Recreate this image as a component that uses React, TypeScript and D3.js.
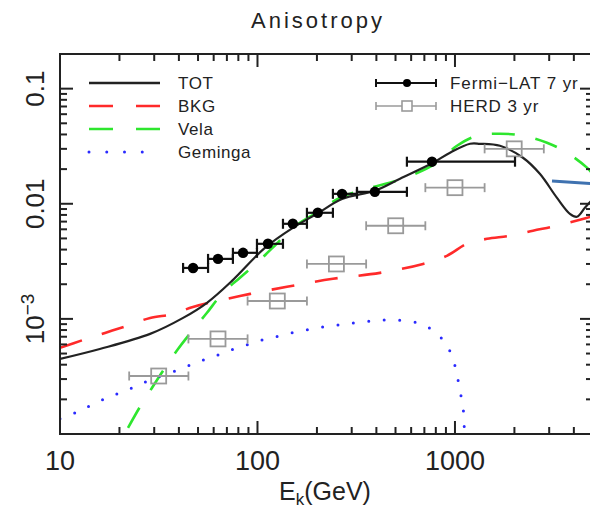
import React, { useEffect, useRef } from "react"
import * as d3 from "d3"

// curves (E in GeV, anisotropy)
const totE = [10, 15.9, 28.6, 42, 55.5, 74.3, 109, 151, 200, 268, 394, 527, 774, 944, 1192, 1339, 1690, 2210, 2690, 3280, 3820, 4150, 4550, 5000]
const totA = [4.49e-4, 5.48e-4, 7.41e-4, 1.02e-3, 1.38e-3, 2.14e-3, 4.14e-3, 6.18e-3, 8.18e-3, 0.011, 0.013, 0.0165, 0.0227, 0.0278, 0.0332, 0.0332, 0.0319, 0.0251, 0.0182, 0.0113, 8.18e-3, 7.71e-3, 9.23e-3, 0.011]

const bkgE = [10, 13.1, 16.9, 21.8, 28.6, 37.4, 47.1, 81.5, 141, 241, 417, 689, 910, 1150, 1452, 1898, 2483, 3283, 4295, 5000]
const bkgA = [5.6e-4, 6.56e-4, 7.55e-4, 8.69e-4, 1.02e-3, 1.1e-3, 1.27e-3, 1.58e-3, 1.9e-3, 2.23e-3, 2.51e-3, 3.0e-3, 3.53e-3, 4.49e-3, 4.96e-3, 5.27e-3, 5.83e-3, 6.44e-3, 7.26e-3, 7.8e-3]

const velaE = [22.1, 25.4, 29.2, 34, 39.6, 47.1, 55.5, 66.1, 81.5, 99.4, 125, 151, 207, 262, 358, 545, 811, 1024, 1292, 1690, 2210, 2924, 3690, 4660, 5000]
const velaA = [1.13e-4, 1.72e-4, 2.51e-4, 3.75e-4, 5.48e-4, 8.02e-4, 1.13e-3, 1.65e-3, 2.28e-3, 3.07e-3, 4.49e-3, 6.18e-3, 8.69e-3, 0.0113, 0.0135, 0.0165, 0.0227, 0.0319, 0.039, 0.0406, 0.039, 0.0339, 0.0278, 0.0206, 0.018]

const gemE = [10, 12.2, 14.5, 17.3, 20.6, 24.5, 29.2, 34.8, 42, 50, 59.6, 71, 85.5, 102, 123, 148, 178, 215, 259, 312, 380, 458, 558, 673, 792, 900, 977, 1024, 1060, 1099, 1111, 1125]
const gemA = [1.36e-4, 1.55e-4, 1.79e-4, 2.06e-4, 2.32e-4, 2.61e-4, 3.01e-4, 3.32e-4, 3.75e-4, 4.23e-4, 4.67e-4, 5.27e-4, 5.83e-4, 6.44e-4, 6.97e-4, 7.55e-4, 8.02e-4, 8.51e-4, 8.87e-4, 9.23e-4, 9.61e-4, 9.8e-4, 9.61e-4, 9.06e-4, 7.7e-4, 6.07e-4, 4.49e-4, 3.26e-4, 2.37e-4, 1.72e-4, 1.22e-4, 1.0e-4]

const extraE = [3100, 5000]
const extraA = [0.0158, 0.0149]

// data points
const fermiE = [47.2, 63.1, 84.5, 113, 151, 202, 268, 393, 765]
const fermiLo = [42, 56.2, 75.1, 99.4, 134.6, 178, 241, 319, 571]
const fermiHi = [56.2, 75.1, 99.4, 134.6, 178, 241, 319, 571, 2014]
const fermiA = [2.77e-3, 3.32e-3, 3.75e-3, 4.49e-3, 6.7e-3, 8.35e-3, 0.0122, 0.0127, 0.0232]

const herdE = [31.6, 63.1, 126, 251, 501, 1000, 1995]
const herdLo = [22.4, 44.7, 89.1, 178, 355, 708, 1413]
const herdHi = [44.7, 89.1, 178, 355, 708, 1413, 2818]
const herdA = [3.19e-4, 6.7e-4, 1.43e-3, 3.0e-3, 6.44e-3, 0.0138, 0.03]

const xMajor = [10, 100, 1000]
const xLabels = ["10", "100", "1000"]
const xMinor = [20, 30, 40, 50, 60, 70, 80, 90, 200, 300, 400, 500, 600, 700, 800, 900, 2000, 3000, 4000]
const yMajor = [1e-3, 1e-2, 0.1]
const yMinor = [2e-4, 3e-4, 4e-4, 5e-4, 6e-4, 7e-4, 8e-4, 9e-4, 2e-3, 3e-3, 4e-3, 5e-3, 6e-3, 7e-3, 8e-3, 9e-3, 0.02, 0.03, 0.04, 0.05, 0.06, 0.07, 0.08, 0.09]

const lineNames = ["TOT", "BKG", "Vela", "Geminga"]
const pointNames = ["Fermi\u2212LAT 7 yr", "HERD 3 yr"]

const FONT = "'Liberation Sans', Arial, sans-serif"

export default function App() {
    const ref = useRef<SVGSVGElement>(null)

    useEffect(() => {
        const svg = d3.select(ref.current)
        svg.selectAll("*").remove()
        const left = 60, right = 593, top = 54, bottom = 434
        const x = d3.scaleLog().domain([10, 5000]).range([left, right])
        const y = d3.scaleLog().domain([1e-4, 0.2]).range([bottom, top])

        svg.append("defs").append("clipPath").attr("id", "plotclip")
            .append("rect").attr("x", left).attr("y", top)
            .attr("width", right - left).attr("height", bottom - top)

        const line = d3.line<[number, number]>()
            .x(d => x(d[0])).y(d => y(d[1]))
            .curve(d3.curveCatmullRom.alpha(0.5))
        const zip = (a: number[], b: number[]) => a.map((v, i) => [v, b[i]] as [number, number])

        const g = svg.append("g").attr("clip-path", "url(#plotclip)")
        const curves = [
            { data: zip(bkgE, bkgA), color: "#ff2a2a", dash: "23 21", w: 2.6 },
            { data: zip(velaE, velaA), color: "#2ee62e", dash: "23 21", w: 2.6 },
            { data: zip(gemE, gemA), color: "#2a2aff", dash: "0 15.5", w: 3 },
            { data: zip(totE, totA), color: "#222", dash: null, w: 2.2 },
            { data: zip(extraE, extraA), color: "#3f72b0", dash: null, w: 3 },
        ]
        curves.forEach(c => {
            g.append("path").attr("d", line(c.data))
                .attr("fill", "none").attr("stroke", c.color)
                .attr("stroke-width", c.w)
                .attr("stroke-linecap", c.dash && c.dash.startsWith("0") ? "round" : "butt")
                .attr("stroke-dasharray", c.dash)
        })

        // HERD
        const herd = g.append("g").attr("stroke", "#9a9a9a").attr("stroke-width", 1.8).attr("fill", "none")
        herdE.forEach((e, i) => {
            const cy = y(herdA[i])
            herd.append("line").attr("x1", x(herdLo[i])).attr("x2", x(herdHi[i])).attr("y1", cy).attr("y2", cy)
            herd.append("line").attr("x1", x(herdLo[i])).attr("x2", x(herdLo[i])).attr("y1", cy - 4.5).attr("y2", cy + 4.5)
            herd.append("line").attr("x1", x(herdHi[i])).attr("x2", x(herdHi[i])).attr("y1", cy - 4.5).attr("y2", cy + 4.5)
            herd.append("rect").attr("x", x(e) - 7.5).attr("y", cy - 7.5).attr("width", 15).attr("height", 15)
        })

        // Fermi
        const fermi = g.append("g").attr("stroke", "#111").attr("stroke-width", 2.2)
        fermiE.forEach((e, i) => {
            const cy = y(fermiA[i])
            fermi.append("line").attr("x1", x(fermiLo[i])).attr("x2", x(fermiHi[i])).attr("y1", cy).attr("y2", cy)
            fermi.append("line").attr("x1", x(fermiLo[i])).attr("x2", x(fermiLo[i])).attr("y1", cy - 5).attr("y2", cy + 5)
            fermi.append("line").attr("x1", x(fermiHi[i])).attr("x2", x(fermiHi[i])).attr("y1", cy - 5).attr("y2", cy + 5)
            fermi.append("circle").attr("cx", x(e)).attr("cy", cy).attr("r", 5.2).attr("fill", "#000").attr("stroke", "none")
        })

        // frame and ticks
        const ax = svg.append("g").attr("stroke", "#222").attr("stroke-width", 2)
        ax.append("rect").attr("x", left).attr("y", top).attr("width", right - left).attr("height", bottom - top).attr("fill", "none")
        const tick = (vals: number[], len: number) => {
            vals.forEach(v => {
                const px = x(v)
                ax.append("line").attr("x1", px).attr("x2", px).attr("y1", bottom).attr("y2", bottom - len)
                ax.append("line").attr("x1", px).attr("x2", px).attr("y1", top).attr("y2", top + len)
            })
        }
        tick(xMajor, 13)
        tick(xMinor, 7)
        const ytick = (vals: number[], len: number) => {
            vals.forEach(v => {
                const py = y(v)
                ax.append("line").attr("x1", left).attr("x2", left + len).attr("y1", py).attr("y2", py)
                ax.append("line").attr("x1", right).attr("x2", right - len).attr("y1", py).attr("y2", py)
            })
        }
        ytick(yMajor, 13)
        ytick(yMinor, 7)

        // labels
        const txt = svg.append("g").attr("font-family", FONT).attr("fill", "#222")
        xMajor.forEach((v, i) => {
            txt.append("text").attr("x", x(v)).attr("y", 470).attr("text-anchor", "middle")
                .attr("font-size", 27).text(xLabels[i])
        })
        const yl = (v: number) => txt.append("text").attr("text-anchor", "middle").attr("font-size", 26)
            .attr("transform", `translate(44,${y(v)}) rotate(-90)`)
        yl(0.1).text("0.1")
        yl(0.01).text("0.01")
        const t3 = yl(1e-3)
        t3.append("tspan").text("10")
        t3.append("tspan").attr("dy", -10).attr("font-size", 19).text("\u22123")

        const xl = txt.append("text").attr("x", 325).attr("y", 500).attr("text-anchor", "middle").attr("font-size", 25)
        xl.append("tspan").text("E")
        xl.append("tspan").attr("dy", 5).attr("font-size", 17).text("k")
        xl.append("tspan").attr("dy", -5).text("(GeV)")

        txt.append("text").attr("x", 318).attr("y", 28).attr("text-anchor", "middle")
            .attr("font-size", 22).attr("letter-spacing", 3).text("Anisotropy")

        // legend
        const leg = svg.append("g")
        const legY = [83, 106, 129, 152]
        const legStyle = [
            { color: "#222", dash: null, w: 2.4 },
            { color: "#ff2a2a", dash: "24 23", w: 2.6 },
            { color: "#2ee62e", dash: "24 23", w: 2.6 },
            { color: "#2a2aff", dash: "0 17.75", w: 3 },
        ]
        lineNames.forEach((n, i) => {
            const s = legStyle[i]
            leg.append("line").attr("x1", 89).attr("x2", 160).attr("y1", legY[i]).attr("y2", legY[i])
                .attr("stroke", s.color).attr("stroke-width", s.w).attr("stroke-dasharray", s.dash)
                .attr("stroke-linecap", i === 3 ? "round" : "butt")
            leg.append("text").attr("x", 178).attr("y", legY[i] + 6).attr("font-family", FONT)
                .attr("font-size", 17).attr("letter-spacing", 0.6).attr("fill", "#222").text(n)
        })
        const pcol = ["#111", "#9a9a9a"]
        pointNames.forEach((n, i) => {
            const cy = legY[i]
            const lg = leg.append("g").attr("stroke", pcol[i]).attr("stroke-width", i ? 1.6 : 2).attr("fill", "none")
            lg.append("line").attr("x1", 376).attr("x2", 436).attr("y1", cy).attr("y2", cy)
            lg.append("line").attr("x1", 376).attr("x2", 376).attr("y1", cy - 4).attr("y2", cy + 4)
            lg.append("line").attr("x1", 436).attr("x2", 436).attr("y1", cy - 4).attr("y2", cy + 4)
            if (i === 0) lg.append("circle").attr("cx", 407).attr("cy", cy).attr("r", 4).attr("fill", "#000").attr("stroke", "none")
            else lg.append("rect").attr("x", 402).attr("y", cy - 5).attr("width", 10).attr("height", 10).attr("fill", "#fff")
            leg.append("text").attr("x", 450).attr("y", cy + 6).attr("font-family", FONT)
                .attr("font-size", 17).attr("letter-spacing", 0.9).attr("fill", "#222").text(n)
        })
    }, [])

    return (
        <svg ref={ref} width={590} height={510}
            style={{ position: "absolute", left: 0, top: 0, background: "#fff" }} />
    )
}
